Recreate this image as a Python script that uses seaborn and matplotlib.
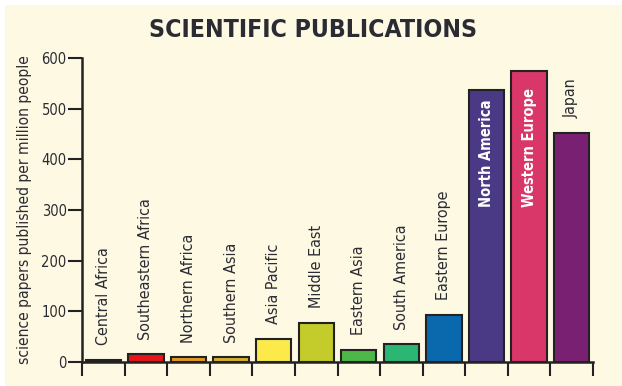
import matplotlib
matplotlib.use("Agg")
import matplotlib.pyplot as plt
from matplotlib.patches import Rectangle
import seaborn as sns
import pandas as pd

regions = ["Central Africa", "Southeastern Africa", "Northern Africa", "Southern Asia",
           "Asia Pacific", "Middle East", "Eastern Asia", "South America",
           "Eastern Europe", "North America", "Western Europe", "Japan"]
papers = [4, 15, 9, 9, 46, 77, 24, 35, 93, 537, 574, 452]
colors = ["#262626", "#E8141B", "#E39A24", "#D6B12E", "#FBEA4A", "#C3CC2A",
          "#4DB848", "#2BB673", "#0A69AC", "#4A3A86", "#D9366A", "#7A2072"]
inside_labels = ["North America", "Western Europe"]
yticks = [0, 100, 200, 300, 400, 500, 600]

CREAM = "#FEF9E3"
INK = "#2B2B33"

sns.set_style("ticks")
plt.rcParams["font.family"] = ["DejaVu Sans"]
plt.rcParams["font.stretch"] = "condensed"

df = pd.DataFrame({"region": regions, "papers": papers})

fig = plt.figure(figsize=(6.22, 3.86), dpi=100)
fig.patch.set_facecolor("white")
fig.patches.append(Rectangle((5 / 622, 0), 1, 1 - 5 / 386, transform=fig.transFigure,
                             facecolor=CREAM, edgecolor="none", zorder=-10))

ax = fig.add_axes([82 / 622, 24 / 386, 511 / 622, 304 / 386])
ax.set_facecolor("none")

sns.barplot(data=df, x="region", y="papers", hue="region",
            palette=dict(zip(regions, colors)), order=regions, legend=False,
            width=0.83, edgecolor="#222222", linewidth=1.5, saturation=1, ax=ax)

# region names: above short bars, inside (white) on the tallest ones
for i, (name, val) in enumerate(zip(regions, papers)):
    if name in inside_labels:
        ax.text(i, 305, name, rotation=90, ha="center", va="bottom",
                color="white", fontsize=10.5, fontweight="bold")
    else:
        ax.annotate(name, (i, val), xytext=(0, 10.5), textcoords="offset points",
                    rotation=90, ha="center", va="bottom", color=INK, fontsize=11.5)

ax.set_xlim(-0.5, len(regions) - 0.5)
ax.set_ylim(0, 600)
ax.set_yticks(yticks)
ax.set_yticklabels([str(t) for t in yticks], color=INK, fontsize=10.5)
ax.set_xticks([i - 0.5 for i in range(len(regions) + 1)])
ax.set_xticklabels([])
ax.tick_params(axis="both", direction="out", length=10, width=1.5, color="#222222")
ax.tick_params(axis="y", pad=1)
for side in ("top", "right"):
    ax.spines[side].set_visible(False)
for side in ("left", "bottom"):
    ax.spines[side].set_linewidth(1.8)
    ax.spines[side].set_color("#222222")
ax.set_xlabel("")
ax.set_ylabel("science papers published per million people", color=INK, fontsize=11.2)
ax.yaxis.set_label_coords(-0.098, 0.5)

fig.text(313 / 622, 1 - 30 / 386, "SCIENTIFIC PUBLICATIONS", ha="center", va="center",
         fontsize=17.8, fontweight="bold", color=INK)

fig.savefig("out.png", dpi=100, facecolor=fig.get_facecolor())
